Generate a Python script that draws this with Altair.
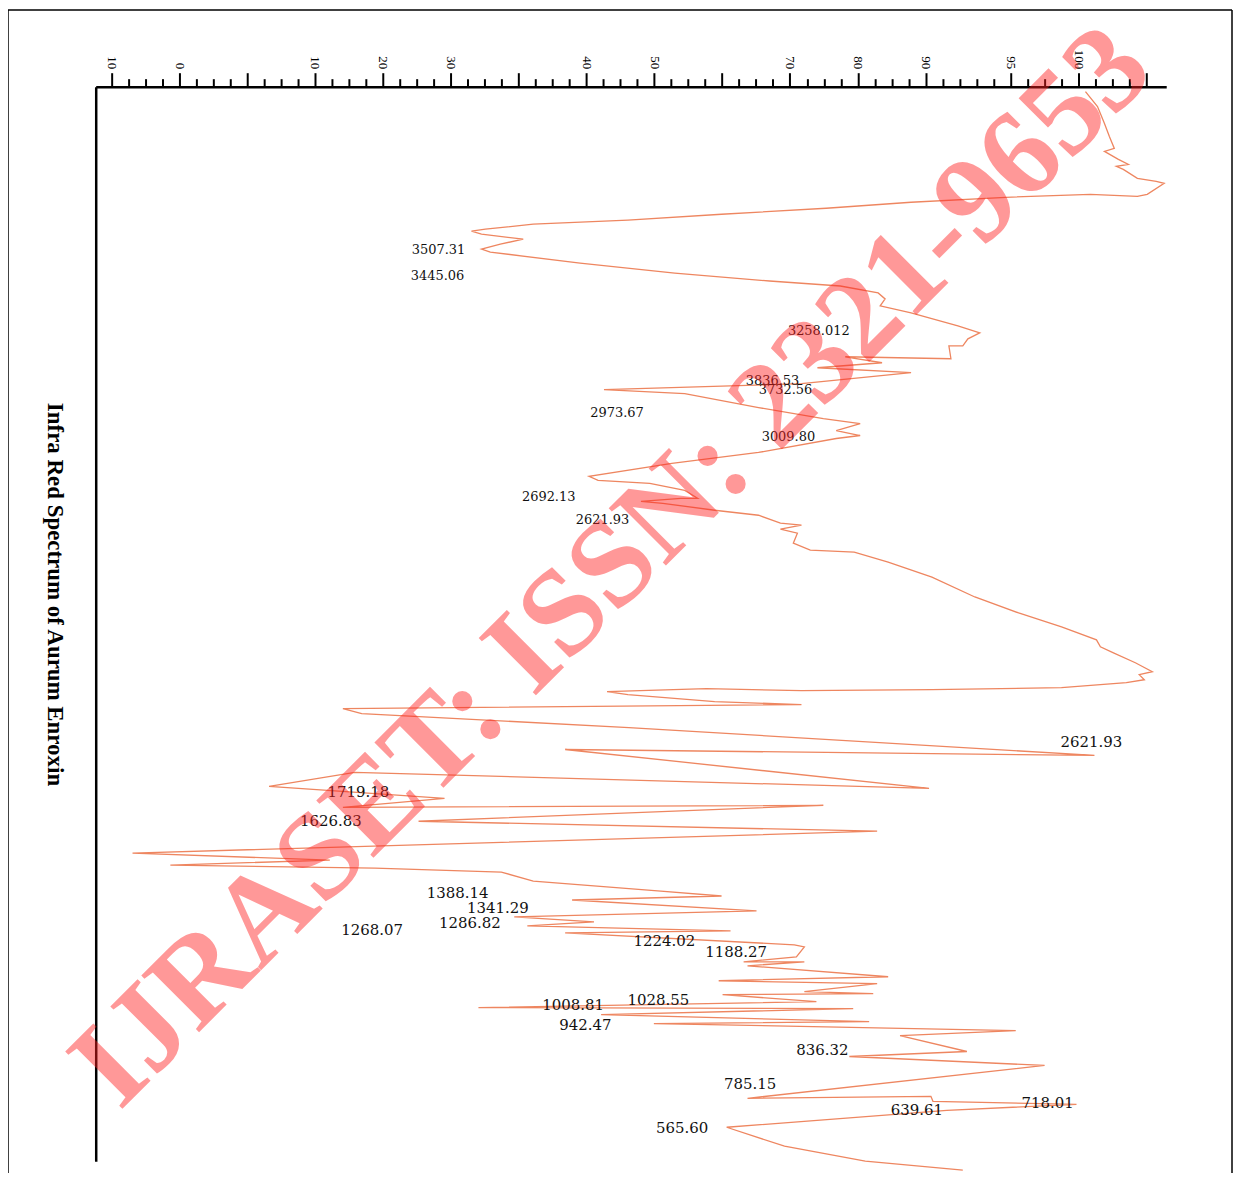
import json
import altair as alt
import pandas as pd

# ---- spectrum trace (x: position on the transmittance scale in minor-tick units,
#      y: position down the scan, top axis = 0) ----
x_vals = [57.42, 58.13, 58.54, 58.83, 59.12, 58.54, 59.36, 59.95, 59.24, 59.65,
          60.48, 61.59, 62.06, 61.06, 60.48, 57.71, 52.72, 47.14, 42.14, 35.97,
          30.45, 24.87, 22.05, 21.23, 21.82, 24.28, 22.93, 21.82, 22.34, 27.63,
          33.21, 38.80, 42.97, 45.20, 45.61, 45.32, 47.14, 49.90, 51.19, 50.49,
          50.19, 49.37, 49.49, 43.26, 45.43, 41.62, 47.14, 40.68, 29.04, 33.80,
          38.15, 41.97, 44.14, 42.73, 44.14, 42.73, 38.15, 33.04, 28.16, 28.69,
          31.74, 33.80, 34.56, 33.57, 31.22, 32.51, 35.56, 38.15, 39.44, 40.68,
          39.44, 40.44, 40.20, 41.20, 43.79, 45.79, 48.37, 50.90, 53.48, 56.01,
          58.07, 58.30, 59.07, 60.36, 61.36, 60.59, 60.89, 59.83, 56.01, 48.37,
          40.68, 35.09, 29.22, 30.45, 35.56, 40.68, 13.65, 14.76, 30.51, 57.95,
          26.75, 48.20, 14.35, 9.30, 19.64, 13.65, 41.97, 18.11, 45.14, 1.25,
          12.88, 3.48, 15.53, 22.99, 24.87, 28.63, 32.39, 35.97, 27.16, 38.03,
          23.75, 28.45, 24.52, 36.50, 26.75, 40.26, 40.85, 40.38, 37.27, 40.85,
          37.50, 45.79, 35.80, 45.14, 40.85, 44.91, 36.03, 41.56, 21.64, 43.73,
          28.87, 44.67, 31.98, 53.31, 46.49, 50.43, 43.50, 55.01, 37.50, 48.31,
          48.43, 56.89, 49.25, 36.27, 39.68, 44.44, 50.19]
y_vals = [5, 20, 37, 50, 62, 65, 73, 78, 80, 83,
          92, 95, 97, 108, 110, 108, 111, 116, 122, 128,
          134, 138, 143, 145, 148, 153, 158, 163, 166, 177,
          187, 195, 200, 207, 213, 220, 227, 240, 247, 253,
          260, 260, 273, 271, 277, 282, 287, 298, 304, 308,
          322, 333, 338, 345, 350, 353, 367, 378, 391, 395,
          398, 405, 413, 413, 416, 418, 425, 430, 438, 440,
          444, 448, 458, 465, 467, 477, 492, 512, 528, 542,
          555, 562, 568, 578, 587, 590, 595, 598, 603, 605,
          606, 604, 607, 610, 617, 620, 624, 629, 643, 671,
          665, 704, 688, 702, 714, 723, 721, 737, 747, 769,
          776, 781, 784, 788, 797, 802, 807, 812, 816, 827,
          833, 838, 842, 847, 849, 861, 863, 873, 878, 878,
          882, 893, 897, 900, 908, 910, 911, 918, 924, 925,
          931, 938, 940, 947, 952, 968, 973, 982, 1015, 1013,
          1018, 1021, 1027, 1044, 1063, 1078, 1087]

# ---- peak annotations ----
upper_text = ["3507.31", "3445.06", "3258.012", "3836.53", "3732.56",
              "2973.67", "3009.80", "2692.13", "2621.93"]
upper_x = [19.29, 19.23, 41.70, 38.97, 39.74, 29.81, 39.91, 25.78, 28.95]
upper_y = [164, 190, 245, 295, 304, 327, 352, 412, 435]

lower_text = ["2621.93", "1719.18", "1626.83", "1388.14", "1341.29", "1286.82",
              "1268.07", "1224.02", "1188.27", "1008.81", "1028.55", "942.47",
              "836.32", "785.15", "718.01", "639.61", "565.60"]
lower_x = [57.77, 14.56, 12.94, 20.41, 22.78, 21.14, 15.38, 32.60, 36.83,
           27.22, 32.24, 27.95, 41.91, 37.65, 55.19, 47.49, 33.65]
lower_y = [658, 708, 737, 809, 824, 839, 846, 857, 868, 921, 916, 941,
           967, 1001, 1020, 1027, 1045]

# ---- top scale ----
all_ticks = list(range(0, 62))
long_ticks = [0, 4, 8, 12, 16, 20, 24, 28, 32, 36, 40, 44, 48, 53, 57, 61]
label_ticks = [0, 4, 12, 16, 20, 28, 32, 40, 44, 48, 53, 57]
label_text = ["10", "0", "10", "20", "30", "40", "50", "70", "80", "90", "95", "100"]

title_text = "Infra Red Spectrum of Aurum Enroxin"
watermark = "IJRASET: ISSN: 2321-9653"

W, H = 1074, 1078
PAD = {"left": 88, "top": 77, "right": 67, "bottom": 12}
LINE = "#EE8660"

label_expr = (f"indexof({json.dumps(label_ticks)}, datum.value) >= 0 ? "
              f"{json.dumps(label_text)}[indexof({json.dumps(label_ticks)}, datum.value)] : ''")

xscale = alt.Scale(domain=[-0.92, 62.18], nice=False, zero=False)
yscale = alt.Scale(domain=[0, H], nice=False, zero=False, reverse=True)

x_axis = alt.Axis(
    orient="top", values=all_ticks, labelExpr=label_expr, title=None, grid=False,
    domainColor="black", domainWidth=2.5, tickColor="black", tickWidth=2,
    tickSize={"condition": {"test": f"indexof({json.dumps(long_ticks)}, datum.value) >= 0",
                            "value": 14}, "value": 8},
    labelAngle=90, labelAlign="right", labelBaseline="middle", labelPadding=4,
    labelFont="Liberation Serif", labelFontSize=13, labelColor="black",
    labelOverlap=False, labelFlush=False,
)
y_axis = alt.Axis(
    orient="left", ticks=False, labels=False, grid=False,
    domainColor="black", domainWidth=2.5, title=title_text,
    titleAngle=90, titleAlign="center", titleBaseline="middle",
    titleX=-41, titleY=509, titleFont="Liberation Serif", titleFontSize=23,
    titleFontWeight="bold", titleColor="black",
)

xenc = alt.X("x:Q", scale=xscale, axis=x_axis)
yenc = alt.Y("y:Q", scale=yscale, axis=y_axis)

curve = pd.DataFrame({"x": x_vals, "y": y_vals, "i": list(range(len(x_vals)))})
line = alt.Chart(curve).mark_line(color=LINE, strokeWidth=1.3, clip=False).encode(
    x=xenc, y=yenc, order="i:Q")

up = pd.DataFrame({"x": upper_x, "y": upper_y, "t": upper_text})
lo = pd.DataFrame({"x": lower_x, "y": lower_y, "t": lower_text})
up_labels = alt.Chart(up).mark_text(font="DejaVu Serif", fontSize=13, color="#111",
                                    align="center", baseline="middle").encode(
    x=xenc, y=yenc, text="t:N")
lo_labels = alt.Chart(lo).mark_text(font="DejaVu Serif", fontSize=15, color="#111",
                                    align="center", baseline="middle").encode(
    x=xenc, y=yenc, text="t:N")

one = pd.DataFrame({"k": [0]})
frame_left = alt.Chart(one).mark_rule(color="black", strokeWidth=1.5).encode(
    x=alt.value(-88), y=alt.value(-77), y2=alt.value(H + 12))
frame_top = alt.Chart(one).mark_rule(color="black", strokeWidth=1.5).encode(
    x=alt.value(-88), x2=alt.value(1140), y=alt.value(-77))
frame_right = alt.Chart(one).mark_rule(color="black", strokeWidth=1.5).encode(
    x=alt.value(1140), y=alt.value(-77), y2=alt.value(H + 12))

wm = alt.Chart(pd.DataFrame({"w": [watermark]})).mark_text(
    font="Liberation Serif", fontWeight="bold", fontSize=124, angle=315,
    color="#ff2020", opacity=0.46, align="center", baseline="middle").encode(
    x=alt.value(518), y=alt.value(482), text="w:N")

chart = alt.layer(line, up_labels, lo_labels, wm, frame_left, frame_top, frame_right).properties(
    width=W, height=H, background="white",
    autosize=alt.AutoSizeParams(type="none"), padding=PAD,
).configure_view(stroke=None)

chart.save("out.html", embed_options={"renderer": "svg", "actions": False})
